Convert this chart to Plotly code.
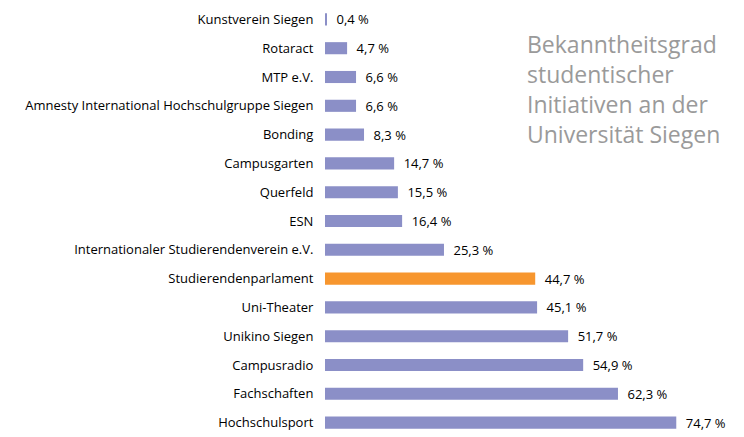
import plotly.graph_objects as go

categories = [
    "Kunstverein Siegen",
    "Rotaract",
    "MTP e.V.",
    "Amnesty International Hochschulgruppe Siegen",
    "Bonding",
    "Campusgarten",
    "Querfeld",
    "ESN",
    "Internationaler Studierendenverein e.V.",
    "Studierendenparlament",
    "Uni-Theater",
    "Unikino Siegen",
    "Campusradio",
    "Fachschaften",
    "Hochschulsport",
]
values = [0.4, 4.7, 6.6, 6.6, 8.3, 14.7, 15.5, 16.4, 25.3, 44.7, 45.1, 51.7, 54.9, 62.3, 74.7]
highlight = "Studierendenparlament"
title_lines = ["Bekanntheitsgrad", "studentischer", "Initiativen an der", "Universität Siegen"]

BLUE = "#8b8fc7"
ORANGE = "#f7962e"
colors = [ORANGE if c == highlight else BLUE for c in categories]
text = ["\u2002" + f"{v:.1f}".replace(".", ",") + " %" for v in values]

fig = go.Figure(go.Bar(
    x=values, y=categories, orientation="h",
    marker=dict(color=colors, line=dict(width=0)),
    text=text, textposition="outside", cliponaxis=False,
    constraintext="none",
    textfont=dict(family="Open Sans", size=13, color="black"),
))

fig.update_layout(
    width=744, height=437,
    margin=dict(l=325, r=0, t=5, b=0),
    plot_bgcolor="white", paper_bgcolor="white",
    bargap=0.58, showlegend=False,
    font=dict(family="Open Sans", color="black"),
)
fig.update_xaxes(range=[0, 89.1], visible=False, fixedrange=True)
fig.update_yaxes(
    categoryorder="array", categoryarray=categories,
    autorange="reversed", showgrid=False, zeroline=False, showline=False,
    ticks="outside", ticklen=8, tickcolor="white",
    tickfont=dict(family="Open Sans", size=13, color="black"),
)

for i, line in enumerate(title_lines):
    fig.add_annotation(
        text=line, xref="paper", yref="paper",
        x=(525 - 325) / 419, y=(437 - 26 - 30 * i) / 432,
        xanchor="left", yanchor="top", showarrow=False,
        font=dict(family="Open Sans", size=23, color="#9a9a9a"),
    )

fig.write_html("out.html")
